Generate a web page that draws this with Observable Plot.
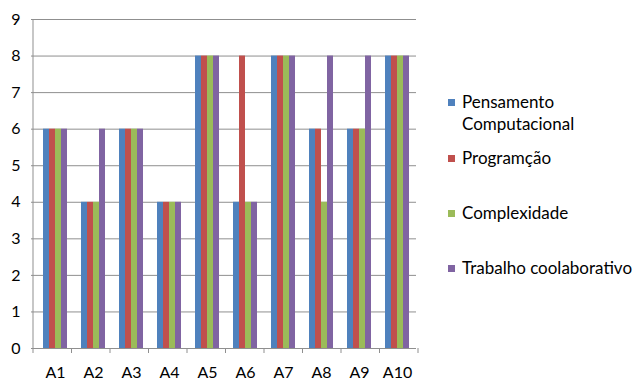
<!DOCTYPE html>
<html>
<head>
<meta charset="utf-8">
<script src="https://cdn.jsdelivr.net/npm/d3@7"></script>
<script src="https://cdn.jsdelivr.net/npm/@observablehq/plot@0.6"></script>
<style>
  html, body { margin: 0; padding: 0; background: #fff; }
  #wrap { position: relative; width: 635px; height: 381px; overflow: hidden; font-family: Lato, "Open Sans", sans-serif; }
  #legend { position: absolute; left: 448px; top: 0; font-size: 17px; color: #000; }
  .item { position: absolute; left: 0; white-space: nowrap; line-height: 22px; }
  .sw { position: absolute; left: 0; top: 8px; width: 7px; height: 7px; }
  .lbl { position: absolute; left: 14px; top: 0; }
</style>
</head>
<body>
<div id="wrap"><div id="chart"></div><div id="legend"></div></div>
<script>
const categories = ["A1", "A2", "A3", "A4", "A5", "A6", "A7", "A8", "A9", "A10"];
const series = ["Pensamento Computacional", "Programção", "Complexidade", "Trabalho coolaborativo"];
const pensamento   = [6, 4, 6, 4, 8, 4, 8, 6, 6, 8];
const programacao  = [6, 4, 6, 4, 8, 8, 8, 6, 6, 8];
const complexidade = [6, 4, 6, 4, 8, 4, 8, 4, 6, 8];
const trabalho     = [6, 6, 6, 4, 8, 4, 8, 8, 8, 8];
const yTicks = [0, 1, 2, 3, 4, 5, 6, 7, 8, 9];
const colors = ["#4F81BD", "#C0504D", "#9BBB59", "#8064A2"];

const seriesValues = [pensamento, programacao, complexidade, trabalho];
const rows = [];
categories.forEach((c, i) => {
  series.forEach((s, j) => rows.push({cat: c, series: s, value: seriesValues[j][i]}));
});

const W = 635, H = 381, ML = 33, MR = 217, MT = 19, MB = 33;
const gray = "#8f8f8f";

const plot = Plot.plot({
  width: W, height: H,
  marginLeft: ML, marginRight: MR, marginTop: MT, marginBottom: MB,
  style: {fontFamily: "Lato, 'Open Sans', sans-serif", fontSize: "16px", color: "#000", background: "transparent"},
  fx: {domain: categories, padding: 0, label: null, tickSize: 0, tickPadding: 18},
  x: {domain: series, paddingInner: 0, paddingOuter: 0.8, axis: null},
  y: {domain: [0, 9], ticks: yTicks, label: null, tickSize: 5, tickPadding: 11},
  color: {domain: series, range: colors},
  marks: [
    Plot.ruleY(yTicks, {stroke: gray, strokeWidth: 1}),
    Plot.barY(rows, {fx: "cat", x: "series", y: "value", fill: "series"})
  ]
});
document.getElementById("chart").appendChild(plot);

// Excel-style axis lines and boundary ticks, placed via Plot's fx/y scales
const fxs = plot.scale("fx");
const ys = plot.scale("y");
const band = d3.scaleBand(fxs.domain, fxs.range).paddingInner(0).paddingOuter(0);
const yScale = d3.scaleLinear(ys.domain, ys.range);
const y0 = yScale(0);
const y9 = yScale(9);
const svg = d3.select(plot);
const g = svg.append("g").attr("stroke", gray).attr("stroke-width", 1);
const bounds = categories.map(c => band(c)).concat([band(categories[categories.length - 1]) + band.bandwidth()]);
bounds.forEach(x => {
  g.append("line").attr("x1", x).attr("x2", x).attr("y1", y0).attr("y2", y0 + 5);
});
g.append("line").attr("x1", bounds[0]).attr("x2", bounds[0]).attr("y1", y9).attr("y2", y0);
svg.selectAll("g[aria-label='y-axis tick'] path, g[aria-label='y-axis tick'] line").attr("stroke", gray);

// Legend
const legendTops = [91, 147, 202, 257];
const legend = document.getElementById("legend");
series.forEach((s, i) => {
  const item = document.createElement("div");
  item.className = "item";
  item.style.top = legendTops[i] + "px";
  const sw = document.createElement("div");
  sw.className = "sw";
  sw.style.background = colors[i];
  const lbl = document.createElement("div");
  lbl.className = "lbl";
  if (i === 0) {
    lbl.innerHTML = "Pensamento<br>Computacional";
  } else {
    lbl.textContent = s;
  }
  item.appendChild(sw);
  item.appendChild(lbl);
  legend.appendChild(item);
});
</script>
</body>
</html>
